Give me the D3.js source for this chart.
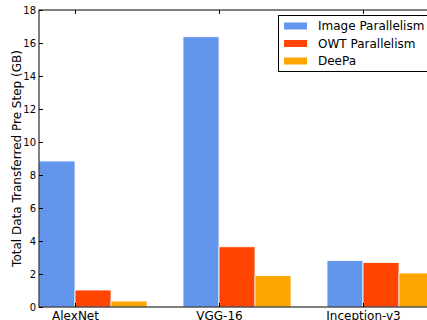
<!DOCTYPE html>
<html>
<head>
<meta charset="utf-8">
<script src="https://cdn.jsdelivr.net/npm/d3@7"></script>
<style>
  html, body { margin: 0; padding: 0; background: #fff; }
  svg { display: block; font-family: "DejaVu Sans", sans-serif; }
</style>
</head>
<body>
<svg id="chart" width="427" height="320"></svg>
<script>
const categories = ["AlexNet", "VGG-16", "Inception-v3"];
const seriesNames = ["Image Parallelism", "OWT Parallelism", "DeePa"];
const imageParallelism = [8.85, 16.38, 2.81];
const owtParallelism = [1.03, 3.65, 2.69];
const deepa = [0.36, 1.90, 2.06];
const yTicks = [0, 2, 4, 6, 8, 10, 12, 14, 16, 18];
const colors = ["#6495ED", "#FF4500", "#FFA500"];

(function () {
const series = [imageParallelism, owtParallelism, deepa];
const barW = 0.25;

const svg = d3.select("#chart");
const mLeft = 39, mTop = 10, mBottom = 307, mRight = 471;

const x = d3.scaleLinear().domain([0, 3]).range([mLeft, mRight]);
const y = d3.scaleLinear().domain([0, 18]).range([mBottom, mTop]);

// bars
series.forEach((vals, j) => {
  svg.append("g").selectAll("rect").data(vals).join("rect")
    .attr("x", (d, i) => x(i + j * barW))
    .attr("width", x(barW) - x(0))
    .attr("y", d => y(d))
    .attr("height", d => y(0) - y(d))
    .attr("fill", colors[j])
    .attr("stroke", "#fff")
    .attr("stroke-width", 0.8);
});

// frame
svg.append("rect").attr("x", mLeft).attr("y", mTop)
  .attr("width", mRight - mLeft).attr("height", mBottom - mTop)
  .attr("fill", "none").attr("stroke", "#000").attr("stroke-width", 1);

// y axis
const yAxis = d3.axisLeft(y).tickValues(yTicks).tickSizeInner(-4).tickSizeOuter(0).tickPadding(3);
const gy = svg.append("g").attr("transform", `translate(${mLeft},0)`).call(yAxis);
gy.select(".domain").remove();
gy.selectAll("text").attr("font-size", 10).attr("font-family", "DejaVu Sans").attr("fill", "#000");
gy.selectAll("line").attr("stroke", "#000");

// x axis bottom
const tickPos = categories.map((c, i) => i + barW);
const xAxis = d3.axisBottom(x).tickValues(tickPos).tickFormat((d, i) => categories[i])
  .tickSizeInner(-4).tickSizeOuter(0).tickPadding(4);
const gx = svg.append("g").attr("transform", `translate(0,${mBottom})`).call(xAxis);
gx.select(".domain").remove();
gx.selectAll("text").attr("font-size", 12).attr("font-family", "DejaVu Sans").attr("fill", "#000");
gx.selectAll("line").attr("stroke", "#000");

// x axis top ticks
const xTop = d3.axisTop(x).tickValues(tickPos).tickFormat("").tickSizeInner(-4).tickSizeOuter(0);
const gt = svg.append("g").attr("transform", `translate(0,${mTop})`).call(xTop);
gt.select(".domain").remove();
gt.selectAll("line").attr("stroke", "#000");

// y label
svg.append("text")
  .attr("transform", `translate(20.5,${(mTop + mBottom) / 2}) rotate(-90)`)
  .attr("text-anchor", "middle")
  .attr("font-size", 12)
  .attr("fill", "#000")
  .text("Total Data Transferred Pre Step (GB)");

// legend
const lg = svg.append("g");
lg.append("rect").attr("x", 278.5).attr("y", 15.5).attr("width", 170).attr("height", 56)
  .attr("fill", "#fff").attr("stroke", "#000").attr("stroke-width", 1);
seriesNames.forEach((name, j) => {
  const cy = 26 + j * 17.5;
  lg.append("rect").attr("x", 284).attr("y", cy - 3.5).attr("width", 23).attr("height", 7)
    .attr("fill", colors[j]);
  lg.append("text").attr("x", 318).attr("y", cy + 4.3).attr("font-size", 12).attr("fill", "#000").text(name);
});
})();
</script>
</body>
</html>
